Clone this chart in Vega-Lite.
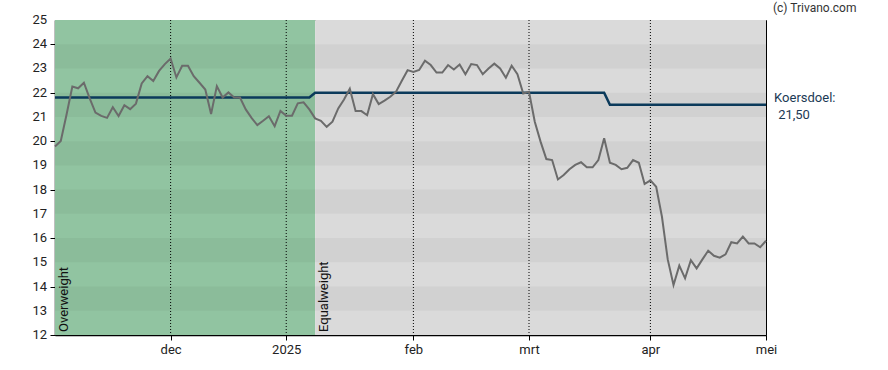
{
  "$schema": "https://vega.github.io/schema/vega-lite/v6.json",
  "autosize": "none",
  "width": 711,
  "height": 315,
  "padding": {"left": 55, "top": 20, "right": 122, "bottom": 35},
  "background": "#ffffff",
  "config": {
    "font": "Roboto",
    "view": {"stroke": "#000000", "strokeWidth": 1},
    "axis": {"labelFont": "Roboto", "labelFontSize": 13, "labelColor": "#222222", "domainColor": "#000000", "tickColor": "#000000", "grid": false, "zindex": 1, "labelOverlap": false},
    "axisY": {"tickCount": 13, "labelOverlap": false, "title": null, "tickSize": 5, "labelPadding": 2, "labelFlush": false, "domainWidth": 1.5}
  },
  "datasets": {
    "price": [
      {"t":0,"price":19.78},{"t":1,"price":20.01},{"t":2,"price":21.1},{"t":3,"price":22.25},{"t":4,"price":22.18},
      {"t":5,"price":22.41},{"t":6,"price":21.77},{"t":7,"price":21.18},{"t":8,"price":21.04},{"t":9,"price":20.96},
      {"t":10,"price":21.4},{"t":11,"price":21.04},{"t":12,"price":21.48},{"t":13,"price":21.32},{"t":14,"price":21.55},
      {"t":15,"price":22.38},{"t":16,"price":22.68},{"t":17,"price":22.48},{"t":18,"price":22.9},{"t":19,"price":23.18},
      {"t":20,"price":23.41},{"t":21,"price":22.63},{"t":22,"price":23.11},{"t":23,"price":23.11},{"t":24,"price":22.68},
      {"t":25,"price":22.41},{"t":26,"price":22.13},{"t":27,"price":21.12},{"t":28,"price":22.27},{"t":29,"price":21.8},
      {"t":30,"price":22.01},{"t":31,"price":21.8},{"t":32,"price":21.8},{"t":33,"price":21.31},{"t":34,"price":20.96},
      {"t":35,"price":20.66},{"t":36,"price":20.84},{"t":37,"price":21.03},{"t":38,"price":20.62},{"t":39,"price":21.25},
      {"t":40,"price":21.05},{"t":41,"price":21.05},{"t":42,"price":21.56},{"t":43,"price":21.6},{"t":44,"price":21.31},
      {"t":45,"price":20.94},{"t":46,"price":20.84},{"t":47,"price":20.59},{"t":48,"price":20.8},{"t":49,"price":21.35},
      {"t":50,"price":21.72},{"t":51,"price":22.16},{"t":52,"price":21.24},{"t":53,"price":21.24},{"t":54,"price":21.07},
      {"t":55,"price":21.94},{"t":56,"price":21.53},{"t":57,"price":21.67},{"t":58,"price":21.83},{"t":59,"price":22.04},
      {"t":60,"price":22.49},{"t":61,"price":22.93},{"t":62,"price":22.86},{"t":63,"price":22.94},{"t":64,"price":23.32},
      {"t":65,"price":23.14},{"t":66,"price":22.83},{"t":67,"price":22.83},{"t":68,"price":23.14},{"t":69,"price":22.96},
      {"t":70,"price":23.16},{"t":71,"price":22.76},{"t":72,"price":23.18},{"t":73,"price":23.14},{"t":74,"price":22.76},
      {"t":75,"price":23.0},{"t":76,"price":23.2},{"t":77,"price":23.0},{"t":78,"price":22.62},{"t":79,"price":23.11},
      {"t":80,"price":22.76},{"t":81,"price":21.97},{"t":82,"price":22.04},{"t":83,"price":20.8},{"t":84,"price":19.98},
      {"t":85,"price":19.26},{"t":86,"price":19.22},{"t":87,"price":18.42},{"t":88,"price":18.6},{"t":89,"price":18.84},
      {"t":90,"price":19.02},{"t":91,"price":19.13},{"t":92,"price":18.92},{"t":93,"price":18.92},{"t":94,"price":19.22},
      {"t":95,"price":20.12},{"t":96,"price":19.11},{"t":97,"price":19.02},{"t":98,"price":18.84},{"t":99,"price":18.9},
      {"t":100,"price":19.22},{"t":101,"price":19.11},{"t":102,"price":18.23},{"t":103,"price":18.38},{"t":104,"price":18.12},
      {"t":105,"price":16.88},{"t":106,"price":15.12},{"t":107,"price":14.06},{"t":108,"price":14.86},{"t":109,"price":14.34},
      {"t":110,"price":15.09},{"t":111,"price":14.75},{"t":112,"price":15.12},{"t":113,"price":15.48},{"t":114,"price":15.27},
      {"t":115,"price":15.19},{"t":116,"price":15.33},{"t":117,"price":15.83},{"t":118,"price":15.78},{"t":119,"price":16.06},
      {"t":120,"price":15.78},{"t":121,"price":15.78},{"t":122,"price":15.62},{"t":123,"price":15.89}
    ],
    "target": [
      {"t":0,"target":21.8},{"t":44,"target":21.8},{"t":45,"target":22.0},{"t":95,"target":22.0},{"t":96,"target":21.5},{"t":123,"target":21.5}
    ],
    "regions": [
      {"start":0,"end":45,"label":"Overweight","rating":"Overweight"},
      {"start":45,"end":123,"label":"Equalweight","rating":"Equalweight"}
    ],
    "bands": [
      {"lo":13,"hi":14},{"lo":15,"hi":16},{"lo":17,"hi":18},{"lo":19,"hi":20},{"lo":21,"hi":22},{"lo":23,"hi":24}
    ],
    "months": [
      {"t":20},{"t":40},{"t":62},{"t":82},{"t":103}
    ],
    "ylabels": [
      {"v":12},{"v":13},{"v":14},{"v":15},{"v":16},{"v":17},{"v":18},{"v":19},{"v":20},{"v":21},{"v":22},{"v":23},{"v":24},{"v":25}
    ]
  },
  "layer": [
    {
      "data": {"name": "regions"},
      "mark": {"type": "rect"},
      "encoding": {
        "x": {"field": "start", "type": "quantitative", "scale": {"domain": [0, 123], "nice": false, "zero": false},
          "axis": {"values": [20, 40, 62, 82, 103, 123], "title": null, "tickSize": 5, "labelPadding": 3, "labelFlush": false, "domainWidth": 1.5,
            "labelExpr": "datum.value == 20 ? 'dec' : datum.value == 40 ? '2025' : datum.value == 62 ? 'feb' : datum.value == 82 ? 'mrt' : datum.value == 103 ? 'apr' : 'mei'"}},
        "x2": {"field": "end"},
        "color": {"field": "rating", "type": "nominal", "scale": {"domain": ["Overweight", "Equalweight"], "range": ["#91c4a1", "#dadada"]}, "legend": null}
      }
    },
    {
      "data": {"name": "bands"},
      "mark": {"type": "rect", "color": "#000000", "opacity": 0.04},
      "encoding": {
        "y": {"field": "lo", "type": "quantitative", "scale": {"domain": [12, 25], "nice": false, "zero": false},
          "axis": {"values": [12,13,14,15,16,17,18,19,20,21,22,23,24,25], "labels": false}},
        "y2": {"field": "hi"}
      }
    },
    {
      "data": {"name": "ylabels"},
      "mark": {"type": "text", "align": "right", "baseline": "middle", "dx": -8, "fontSize": 13, "color": "#222222", "clip": false},
      "encoding": {
        "x": {"datum": 0, "type": "quantitative"},
        "y": {"field": "v", "type": "quantitative"},
        "text": {"field": "v", "type": "quantitative", "format": "d"}
      }
    },
    {
      "data": {"name": "months"},
      "mark": {"type": "rule", "color": "#000000", "strokeWidth": 1, "strokeDash": [1, 2]},
      "encoding": {"x": {"field": "t", "type": "quantitative"}}
    },
    {
      "data": {"name": "regions"},
      "mark": {"type": "text", "angle": 270, "align": "left", "baseline": "top", "dx": 3, "dy": 3, "fontSize": 13, "color": "#111111"},
      "encoding": {
        "x": {"field": "start", "type": "quantitative"},
        "y": {"datum": 12, "type": "quantitative"},
        "text": {"field": "label"}
      }
    },
    {
      "data": {"name": "target"},
      "mark": {"type": "line", "color": "#0b3a5b", "strokeWidth": 2.5},
      "encoding": {
        "x": {"field": "t", "type": "quantitative"},
        "y": {"field": "target", "type": "quantitative"}
      }
    },
    {
      "data": {"name": "price"},
      "mark": {"type": "line", "color": "#6b6b6b", "strokeWidth": 2},
      "encoding": {
        "x": {"field": "t", "type": "quantitative"},
        "y": {"field": "price", "type": "quantitative"}
      }
    },
    {
      "data": {"values": [{}]},
      "mark": {"type": "text", "align": "left", "baseline": "middle", "fontSize": 13, "color": "#1b3a55", "dy": -7, "clip": false},
      "encoding": {"x": {"datum": 124.4}, "y": {"datum": 21.5}, "text": {"value": "Koersdoel:"}}
    },
    {
      "data": {"values": [{}]},
      "mark": {"type": "text", "align": "left", "baseline": "middle", "fontSize": 13, "color": "#1b3a55", "dy": 10, "clip": false},
      "encoding": {"x": {"datum": 125.1}, "y": {"datum": 21.5}, "text": {"value": "21,50"}}
    },
    {
      "data": {"values": [{}]},
      "mark": {"type": "text", "align": "left", "baseline": "middle", "fontSize": 12, "color": "#333333", "dy": -12, "clip": false},
      "encoding": {"x": {"datum": 124.2}, "y": {"datum": 25}, "text": {"value": "(c) Trivano.com"}}
    }
  ]
}
